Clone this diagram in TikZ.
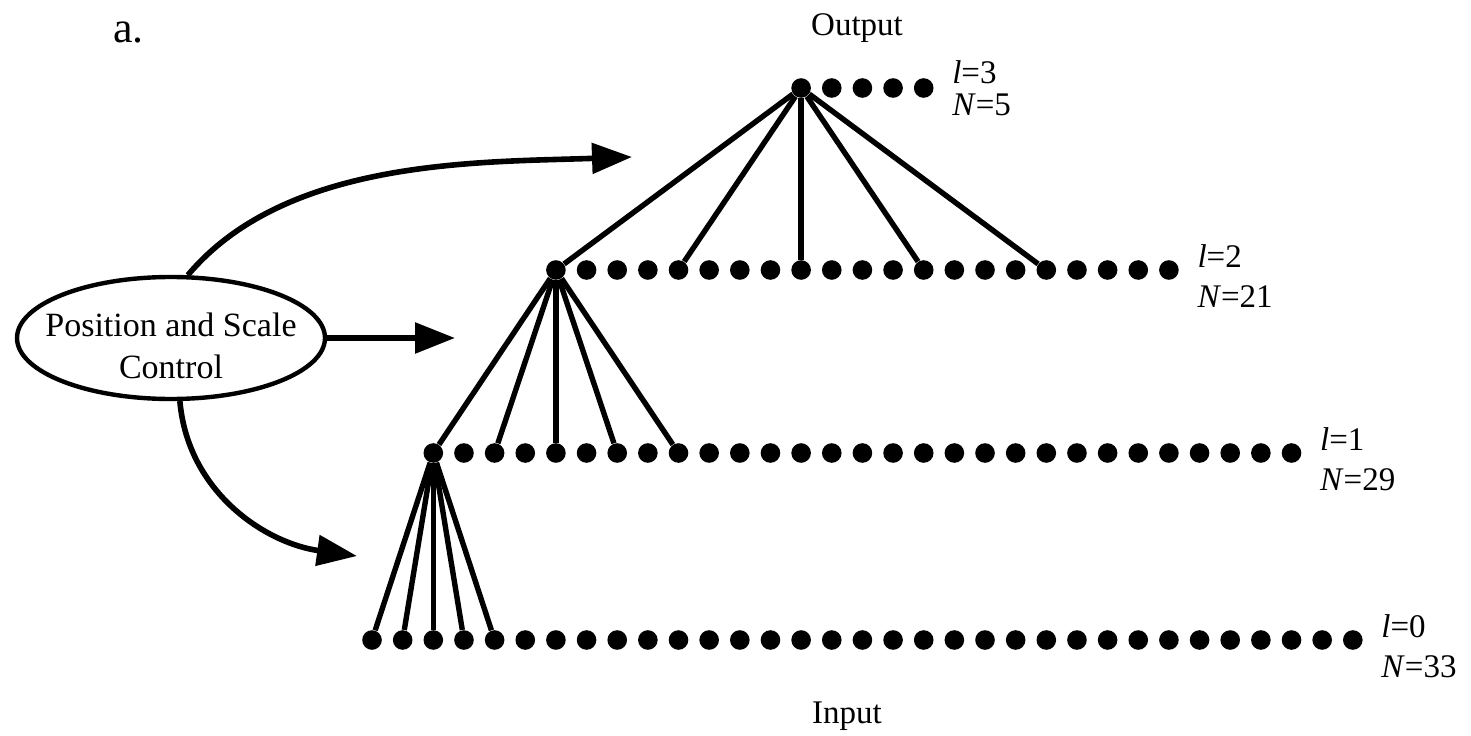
\documentclass[tikz,border=0pt]{standalone}
\usepackage{fontspec}
\setmainfont{Liberation Serif}
\usetikzlibrary{shapes.geometric,arrows.meta,positioning}

\begin{document}
\begin{tikzpicture}[
  x=0.5pt, y=0.5pt,
  unit/.style={circle, fill=black, inner sep=0pt, minimum size=9.8pt},
  link/.style={line width=2.7pt},
  ctrlbox/.style={ellipse, draw, line width=2.2pt, minimum width=154pt,
                  minimum height=61pt, inner xsep=-8.5pt, inner ysep=0pt,
                  text height=41pt, align=center,
                  font=\fontsize{17}{21}\selectfont},
  feed/.style={-{Triangle[length=20pt, width=15pt]}, line width=2.8pt},
  lvl/.style={align=left, inner sep=0pt, font=\fontsize{16.5}{20}\selectfont},
  iolbl/.style={inner sep=0pt, font=\fontsize{16.5}{20}\selectfont},
]
\useasboundingbox (0,0) rectangle (1471,735);

% levels
\foreach \lev/\num/\first/\yy in {0/33/0/95, 1/29/2/282, 2/21/6/465, 3/5/14/647}{
  \pgfmathtruncatemacro\last{\num-1}
  \foreach \i in {0,...,\last}
    \node[unit] (r\lev-\i) at ({372+(\first+\i)*30.65}, \yy) {};
}

% connections
\foreach \i in {0,...,4}    \draw[link] (r1-0) -- (r0-\i);
\foreach \i in {0,2,...,8}  \draw[link] (r2-0) -- (r1-\i);
\foreach \i in {0,4,...,16} \draw[link] (r3-0) -- (r2-\i);

% level labels
\node[lvl, right=9pt of r3-4, font=\fontsize{16.5}{16}\selectfont] (lab3) {\textit{l}=3\\\textit{N}=5};
\node[lvl, right=9pt of r2-20, yshift=-3pt] (lab2) {\textit{l}=2\\\textit{N}=21};
\node[lvl, right=9pt of r1-28, yshift=-3pt] (lab1) {\textit{l}=1\\\textit{N}=29};
\node[lvl, right=9pt of r0-32, yshift=-3pt] (lab0) {\textit{l}=0\\\textit{N}=33};

\node[iolbl, anchor=base] (out) at (857,699) {Output};
\node[iolbl, anchor=base] (in) at (847,12) {Input};
\node[inner sep=0pt, anchor=base west, font=\fontsize{22}{24}\selectfont] (tag) at (113,692) {a.};

% control
\node[ctrlbox] (ctrl) at (171,397) {Position and Scale\\Control};
\coordinate (tipTop) at (632,578);
\coordinate (tipMid) at (455,397);
\coordinate (tipLow) at (357,179);
\draw[feed] (ctrl.75) to[out=50, in=182, looseness=0.85] (tipTop);
\draw[feed] (ctrl.east) -- (tipMid);
\draw[feed] (ctrl.-82) to[out=-85, in=172] (tipLow);
\end{tikzpicture}
\end{document}
